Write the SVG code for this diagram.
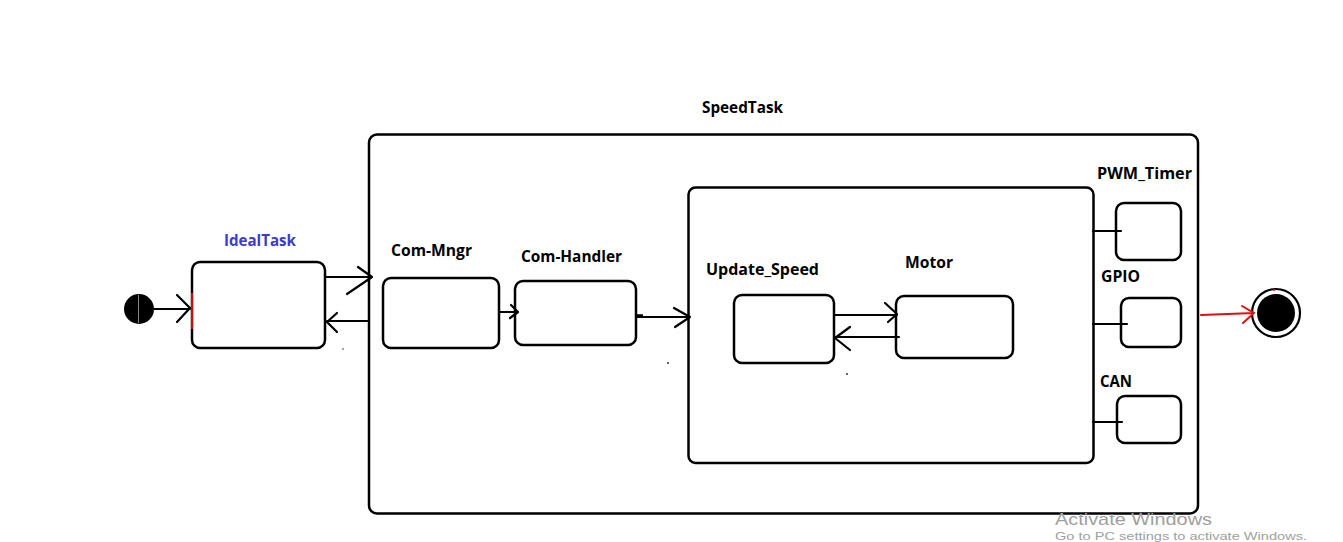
<svg xmlns="http://www.w3.org/2000/svg" width="1343" height="542" viewBox="0 0 1343 542">
<style>
.box{fill:#fff;stroke:#000;stroke-width:2.5}
.ln{fill:none;stroke:#000;stroke-width:2.2;stroke-linecap:round;stroke-linejoin:round}
.red{fill:none;stroke:#e01010;stroke-width:2;stroke-linecap:round}
.lbl{font-family:"Open Sans","Liberation Sans",sans-serif;font-weight:bold;font-size:16px;fill:#000}
.wm{font-family:"Liberation Sans",Arial,sans-serif;fill:#a0a0a0}
</style>
<rect width="1343" height="542" fill="#fff"/>
<g id="speedtask">
<rect class="box" x="369" y="134.5" width="829" height="379" rx="8"/>
<text class="lbl" x="702" y="113" textLength="81" lengthAdjust="spacingAndGlyphs">SpeedTask</text>
</g>
<g id="inner">
<rect class="box" x="688.5" y="187.5" width="405" height="275.5" rx="7"/>
</g>
<g id="initial">
<circle cx="139" cy="309" r="15" fill="#000"/>
<line x1="138.5" y1="295" x2="138.5" y2="323" stroke="#aaa" stroke-width="0.8"/>
</g>
<g id="idealtask">
<rect class="box" x="192" y="262" width="133" height="86" rx="8"/>
<line x1="192" y1="293" x2="192" y2="329" stroke="#d01010" stroke-width="2"/>
<text class="lbl" x="224" y="246" style="fill:#3c3cc8" textLength="72" lengthAdjust="spacingAndGlyphs">IdealTask</text>
</g>
<g id="com-mngr">
<rect class="box" x="383" y="278" width="116" height="70" rx="8"/>
<text class="lbl" x="391" y="256" textLength="81" lengthAdjust="spacingAndGlyphs">Com-Mngr</text>
</g>
<g id="com-handler">
<rect class="box" x="515" y="281" width="121" height="64" rx="8"/>
<text class="lbl" x="521" y="262" textLength="101" lengthAdjust="spacingAndGlyphs">Com-Handler</text>
</g>
<g id="update-speed">
<rect class="box" x="734" y="295" width="100" height="68" rx="8"/>
<text class="lbl" x="706" y="275" textLength="113" lengthAdjust="spacingAndGlyphs">Update_Speed</text>
</g>
<g id="motor">
<rect class="box" x="896" y="296" width="117" height="62" rx="8"/>
<text class="lbl" x="905" y="268" textLength="48" lengthAdjust="spacingAndGlyphs">Motor</text>
</g>
<g id="pwm-timer">
<rect class="box" x="1116" y="203" width="65" height="57" rx="8"/>
<text class="lbl" x="1097" y="179" textLength="95" lengthAdjust="spacingAndGlyphs">PWM_Timer</text>
</g>
<g id="gpio">
<rect class="box" x="1121" y="298" width="60" height="49" rx="8"/>
<text class="lbl" x="1101" y="282" textLength="39" lengthAdjust="spacingAndGlyphs">GPIO</text>
</g>
<g id="can">
<rect class="box" x="1117" y="396" width="64" height="47" rx="8"/>
<text class="lbl" x="1100" y="387" textLength="32" lengthAdjust="spacingAndGlyphs">CAN</text>
</g>
<g id="final">
<circle cx="1276" cy="313" r="24" fill="#fff" stroke="#000" stroke-width="2.2"/>
<circle cx="1276" cy="313" r="19" fill="#000"/>
<line x1="1274" y1="289" x2="1274" y2="291" stroke="#e01010" stroke-width="1.5"/>
</g>
<g id="connectors">
<path class="ln" d="M154 309H190M177 295L190 308L177 322"/>
<path class="ln" d="M325 277H372M358 267L372 277L347 294"/>
<path class="ln" d="M369 321H327M337 313L327 322L337 332"/>
<path class="ln" d="M499 312H517M511 305L518 312L510 318"/>
<path class="ln" d="M636 317H690M674 308L690 317L675 327"/>
<path d="M636 316H643" stroke="#000" stroke-width="3.5"/>
<path class="ln" d="M834 315H897M885 303L897 314L888 322"/>
<path class="ln" d="M899 337H835M850 327L835 338L850 350"/>
<path class="ln" d="M1093 231H1121"/>
<path class="ln" d="M1093 324H1127"/>
<path class="ln" d="M1093 422H1122"/>
<path class="red" d="M1201 315L1254 313M1242 306L1254 313L1243 323"/>
</g>
<g id="dots" fill="#333">
<circle cx="343" cy="349" r="0.8"/>
<circle cx="668" cy="363" r="1"/>
<circle cx="847" cy="374" r="1"/>
</g>
<g id="watermark">
<text class="wm" x="1055" y="525" font-size="17" textLength="157" lengthAdjust="spacingAndGlyphs">Activate Windows</text>
<text class="wm" x="1055" y="539.5" font-size="11" textLength="252" lengthAdjust="spacingAndGlyphs">Go to PC settings to activate Windows.</text>
</g>
</svg>
